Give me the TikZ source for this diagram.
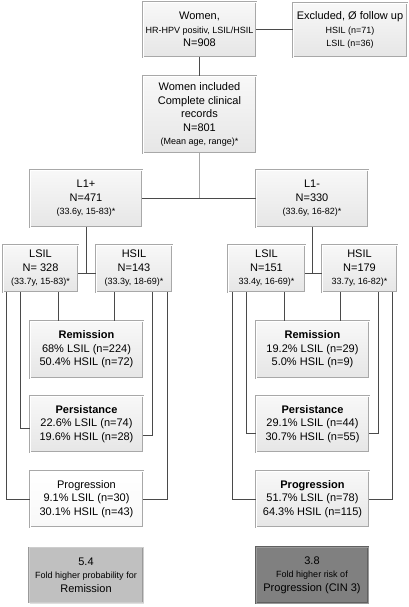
\documentclass[tikz,border=0pt]{standalone}
\usepackage{fontspec}
\setmainfont{Liberation Sans}
\usetikzlibrary{shadows}
\definecolor{boxline}{HTML}{A8A8A8}
\definecolor{boxtop}{HTML}{F8F8F8}
\definecolor{boxbot}{HTML}{E6E6E6}
\definecolor{connc}{HTML}{4A4A4A}
\definecolor{darkfill}{HTML}{808080}
\definecolor{darkline}{HTML}{606060}
\definecolor{midfill}{HTML}{C0C0C0}
\definecolor{midline}{HTML}{9A9A9A}
\newcommand\mainf{\fontsize{11}{13.5}\selectfont}
\newcommand\smf{\fontsize{9}{11}\selectfont}
\tikzset{
  box/.style={draw=boxline, double=white, double distance=0.6pt, line width=0.6pt,
    top color=boxtop, bottom color=boxbot, align=center, inner sep=0pt, font=\mainf,
    drop shadow={shadow xshift=1.2pt, shadow yshift=-1.2pt, opacity=0.25}},
  sz/.style 2 args={minimum width=#1pt, minimum height=#2pt},
  whitebox/.style={top color=white, bottom color=boxtop},
  midbox/.style={draw=midline, double=midfill!80!white, top color=midfill, bottom color=midfill},
  darkbox/.style={draw=darkline, double=darkfill!80!white, top color=darkfill, bottom color=darkfill},
  conn/.style={draw=connc, line width=0.9pt},
  lightconn/.style={draw=boxline, line width=1pt},
}
\begin{document}
\begin{tikzpicture}[x=1pt, y=-1pt]
\useasboundingbox (0,0) rectangle (409,607);

\node[box, sz={113}{55}] (w) at (199.5,29.5) {Women,\\{\smf HR-HPV positiv, LSIL/HSIL}\\N=908};
\node[box, sz={114}{54}] (ex) at (350,30) {Excluded, Ø follow up\\{\smf HSIL (n=71)}\\{\smf LSIL (n=36)}};
\node[box, sz={113}{77}] (inc) at (199.5,114.5) {Women included\\Complete clinical\\records\\N=801\\{\smf (Mean age, range)*}};

\node[box, sz={112}{57}] (l1p) at (86,198.5) {L1+\\N=471\\{\smf (33.6y, 15-83)*}};
\node[box, sz={112}{57}] (l1m) at (312,198.5) {L1-\\N=330\\{\smf (33.6y, 16-82)*}};

\node[box, sz={75}{47}] (lsilL) at (40.5,268.5) {LSIL\\N= 328\\{\smf (33.7y, 15-83)*}};
\node[box, sz={76}{47}] (hsilL) at (134,268.5) {HSIL\\N=143\\{\smf (33.3y, 18-69)*}};
\node[box, sz={77}{47}] (lsilR) at (266.5,268.5) {LSIL\\N=151\\{\smf 33.4y, 16-69)*}};
\node[box, sz={75}{47}] (hsilR) at (359.5,268.5) {HSIL\\N=179\\{\smf 33.7y, 16-82)*}};

\node[box, sz={113}{57}] (remL) at (86.5,349.5) {\textbf{Remission}\\68\% LSIL (n=224)\\50.4\% HSIL (n=72)};
\node[box, sz={113}{56}] (persL) at (86.5,424) {\textbf{Persistance}\\22.6\% LSIL (n=74)\\19.6\% HSIL (n=28)};
\node[box, whitebox, sz={113}{56}] (progL) at (86.5,499) {Progression\\9.1\% LSIL (n=30)\\30.1\% HSIL (n=43)};

\node[box, sz={113}{57}] (remR) at (312.5,349.5) {\textbf{Remission}\\19.2\% LSIL (n=29)\\5.0\% HSIL (n=9)};
\node[box, sz={113}{56}] (persR) at (312.5,424) {\textbf{Persistance}\\29.1\% LSIL (n=44)\\30.7\% HSIL (n=55)};
\node[box, sz={113}{56}] (progR) at (312.5,499) {\textbf{Progression}\\51.7\% LSIL (n=78)\\64.3\% HSIL (n=115)};

\node[box, midbox, sz={114}{55}] (botL) at (86,575) {5.4\\{\smf Fold higher probability for}\\Remission};
\node[box, darkbox, sz={112}{56}] (botR) at (312,575) {3.8\\{\smf Fold higher risk of}\\Progression (CIN 3)};

% junction coordinates
\coordinate (jL) at (86,273);
\coordinate (jR) at (312,273);
\coordinate (a1) at (6,0);
\coordinate (a2) at (20,0);
\coordinate (a3) at (58,0);
\coordinate (b1) at (114,0);
\coordinate (b2) at (152,0);
\coordinate (b3) at (167,0);
\coordinate (c1) at (232,0);
\coordinate (c2) at (246,0);
\coordinate (c3) at (284,0);
\coordinate (d1) at (340,0);
\coordinate (d2) at (378,0);
\coordinate (d3) at (392,0);

% connectors
\draw[conn] (w.east) -- (w.east -| ex.west);
\draw[conn] (w.south) -- (inc.north);
\draw[lightconn] (inc.south) -- (inc.south |- l1p.east);
\draw[conn] (l1p.east) -- (l1m.west);

\draw[conn] (l1p.south) -- (l1p.south |- jL);
\draw[conn] (lsilL.east |- jL) -- (hsilL.west |- jL);
\draw[conn] (l1m.south) -- (l1m.south |- jR);
\draw[conn] (lsilR.east |- jR) -- (hsilR.west |- jR);

\draw[conn] (lsilL.south -| a1) |- (progL.west);
\draw[conn] (lsilL.south -| a2) |- ([yshift=-4pt]persL.west);
\draw[conn] (lsilL.south -| a3) -- (remL.north -| a3);
\draw[conn] (hsilL.south -| b1) -- (remL.north -| b1);
\draw[conn] (hsilL.south -| b2) |- ([yshift=-11pt]persL.east);
\draw[conn] (hsilL.south -| b3) |- (progL.east);

\draw[conn] (lsilR.south -| c1) |- (progR.west);
\draw[conn] (lsilR.south -| c2) |- ([yshift=-9pt]persR.west);
\draw[conn] (lsilR.south -| c3) -- (remR.north -| c3);
\draw[conn] (hsilR.south -| d1) -- (remR.north -| d1);
\draw[conn] (hsilR.south -| d2) |- ([yshift=-9pt]persR.east);
\draw[conn] (hsilR.south -| d3) |- (progR.east);
\end{tikzpicture}
\end{document}
